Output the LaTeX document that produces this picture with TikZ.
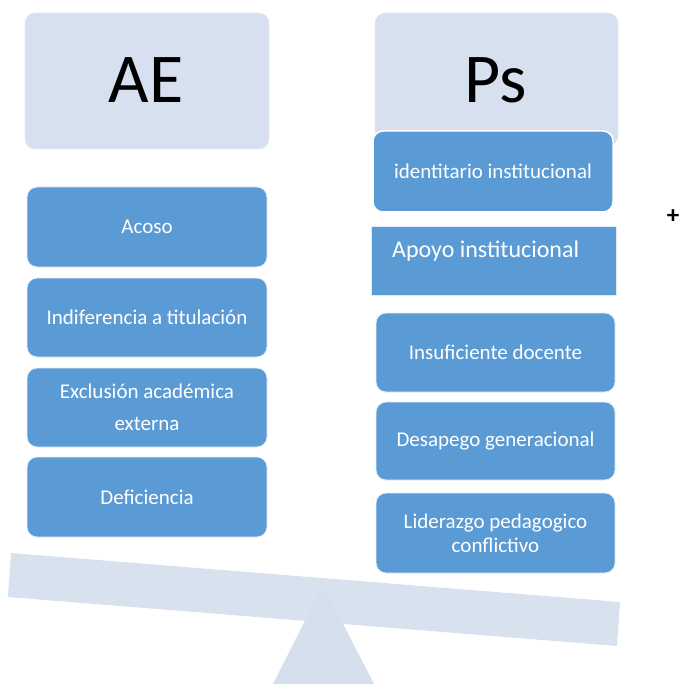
\documentclass[tikz,border=0pt]{standalone}
\usepackage{fontspec}
\setmainfont{Carlito}
\definecolor{boxblue}{HTML}{5B9BD5}
\definecolor{headblue}{HTML}{D6E0EF}
\definecolor{beamblue}{HTML}{D5DFEE}
\tikzset{
  head/.style={fill=headblue, draw=headblue!60!white, line width=0.6pt, rounded corners=10pt, font=\fontsize{70}{72}\selectfont, inner sep=0pt},
  item/.style={fill=boxblue, draw=white!85!boxblue, line width=0.8pt, rounded corners=10pt, text=white, font=\fontsize{21}{24}\selectfont, align=center, inner sep=0pt, minimum width=240pt, minimum height=80pt},
  plain/.style={fill=beamblue, draw=none}
}
\begin{document}
\begin{tikzpicture}[x=1pt,y=-1pt]
\useasboundingbox (0,0) rectangle (681,684);
% balance
\path[plain] (273,684) -- (323,585) -- (374,684) -- cycle;
\path[plain, opacity=0.92] (11,553) -- (8,597) -- (617,646) -- (620,602) -- cycle;
% headers
\node[head, minimum width=244pt, minimum height=136pt] (ae) at (147,81) {};
\node[font=\fontsize{70}{72}\selectfont] (aetxt) at (146,80) {AE};
\node[head, minimum width=243pt, minimum height=133pt] (ps) at (496.5,79.5) {};
\node[font=\fontsize{70}{72}\selectfont] (pstxt) at (496,80) {Ps};
% left items
\node[item] (acoso) at (147,227) {Acoso};
\node[item, minimum height=79pt] (indif) at (147,317.5) {Indiferencia a titulación};
\node[item, minimum height=79pt] (excl) at (147,407.5) {Exclusión académica\\[8pt]externa};
\node[item] (defic) at (147,497) {Deficiencia};
% right items
\node[item, draw=white, line width=1.5pt, minimum height=81pt] (ident) at (493,171.5) {identitario institucional};
\node[fill=boxblue, draw=white!80!boxblue, line width=0.8pt, minimum width=245pt, minimum height=69pt, inner sep=0pt] (apoyo) at (493.5,260.5) {};
\node[anchor=west, text=white, font=\fontsize{24}{28}\selectfont, inner sep=0pt] (apoyotxt) at (392,251) {Apoyo institucional};
\node[item, minimum width=239pt, minimum height=79pt] (insuf) at (495.5,352.5) {Insuficiente docente};
\node[item, minimum width=239pt, minimum height=78pt] (desap) at (495.5,441) {Desapego generacional};
\node[item, minimum width=239pt] (lider) at (495.5,533) {Liderazgo pedagogico\\conflictivo};
% plus
\node[font=\bfseries\fontsize{25}{27}\selectfont] (plus) at (673,217) {+};
\end{tikzpicture}
\end{document}
